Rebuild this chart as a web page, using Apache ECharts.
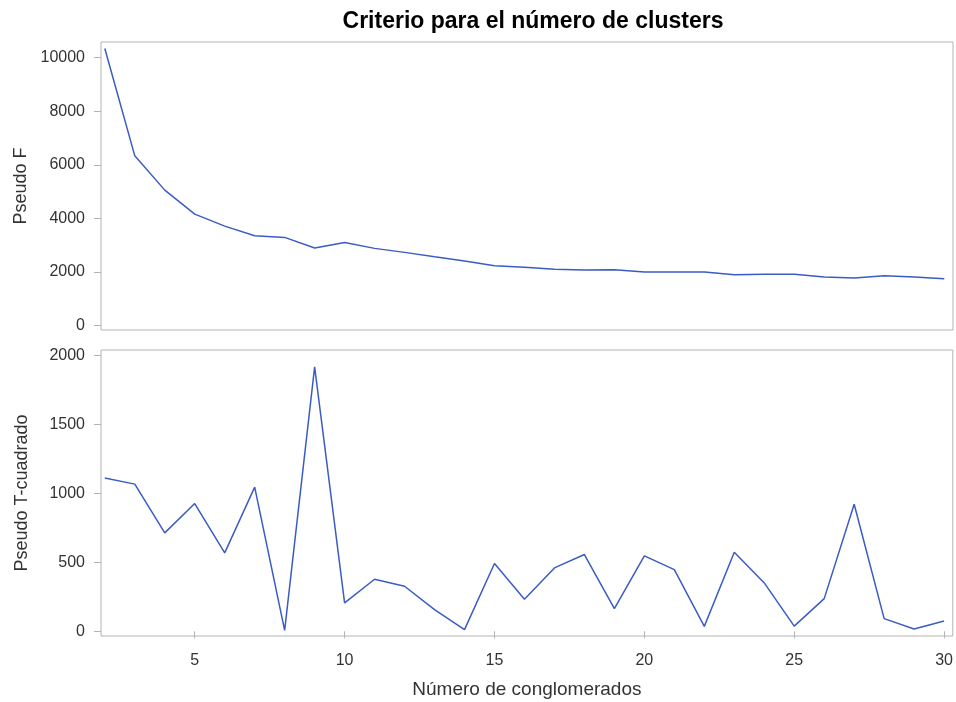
<!DOCTYPE html>
<html>
<head>
<meta charset="utf-8">
<script src="https://cdn.jsdelivr.net/npm/echarts@6/dist/echarts.min.js"></script>
<style>
html,body{margin:0;padding:0;background:#fff;}
#chart{width:956px;height:702px;}
</style>
</head>
<body>
<div id="chart"></div>
<script>
var clusters = [2,3,4,5,6,7,8,9,10,11,12,13,14,15,16,17,18,19,20,21,22,23,24,25,26,27,28,29,30];
var pseudoF = [10335,6334,5056,4162,3715,3353,3293,2895,3107,2884,2735,2571,2411,2235,2176,2101,2075,2090,2000,2000,2000,1900,1915,1915,1814,1777,1863,1814,1751];
var pseudoT2 = [1113,1068,714,927,569,1046,7,1919,206,378,327,157,12,492,232,460,557,165,547,448,36,574,351,38,237,922,92,17,75];
var xTicks = [5,10,15,20,25,30];
var fTicks = [0,2000,4000,6000,8000,10000];
var tTicks = [0,500,1000,1500,2000];

var titleText = 'Criterio para el número de clusters';
var xName = 'Número de conglomerados';
var fName = 'Pseudo F';
var tName = 'Pseudo T-cuadrado';

function pairs(xs, ys){ return xs.map(function(x,i){ return [x, ys[i]]; }); }
function plain(v){ return String(v); }

var FONT = '"Liberation Sans", Arial, sans-serif';
var GRAY = '#b4b4b4';
var TXT = '#333333';
var LINE = '#3a5cc4';

var chart = echarts.init(document.getElementById('chart'), null, {renderer:'canvas'});
var option = {
  animation: false,
  backgroundColor: '#ffffff',
  title: {
    text: titleText,
    left: 528, top: 5, textAlign: 'center',
    textStyle: {fontFamily: FONT, fontSize: 23, fontWeight: 'bold', color: '#000'}
  },
  grid: [
    {left: 101, top: 42, width: 852, height: 288, show: true, borderColor: GRAY, borderWidth: 1, backgroundColor: 'transparent'},
    {left: 101, top: 350, width: 852, height: 286, show: true, borderColor: GRAY, borderWidth: 1, backgroundColor: 'transparent'}
  ],
  xAxis: [
    {gridIndex: 0, type: 'value', min: 1.873, max: 30.29,
     axisLine: {show: false}, axisTick: {show: false}, axisLabel: {show: false}, splitLine: {show: false}},
    {gridIndex: 1, type: 'value', min: 1.873, max: 30.29,
     name: xName, nameLocation: 'middle', nameGap: 44,
     nameTextStyle: {fontFamily: FONT, fontSize: 19, color: TXT},
     axisLine: {show: false},
     axisTick: {show: true, inside: false, length: 7, lineStyle: {color: GRAY}, customValues: xTicks},
     axisLabel: {show: true, margin: 17, fontFamily: FONT, fontSize: 16, color: TXT, customValues: xTicks, formatter: plain},
     splitLine: {show: false}}
  ],
  yAxis: [
    {gridIndex: 0, type: 'value', min: -160, max: 10580,
     name: fName, nameLocation: 'middle', nameGap: 70,
     nameTextStyle: {fontFamily: FONT, fontSize: 18, color: TXT},
     axisLine: {show: false},
     axisTick: {show: true, inside: false, length: 7, lineStyle: {color: GRAY}, customValues: fTicks},
     axisLabel: {show: true, margin: 16, fontFamily: FONT, fontSize: 16, color: TXT, customValues: fTicks, formatter: plain},
     splitLine: {show: false}},
    {gridIndex: 1, type: 'value', min: -34, max: 2041,
     name: tName, nameLocation: 'middle', nameGap: 70,
     nameTextStyle: {fontFamily: FONT, fontSize: 18, color: TXT},
     axisLine: {show: false},
     axisTick: {show: true, inside: false, length: 7, lineStyle: {color: GRAY}, customValues: tTicks},
     axisLabel: {show: true, margin: 16, fontFamily: FONT, fontSize: 16, color: TXT, customValues: tTicks, formatter: plain},
     splitLine: {show: false}}
  ],
  series: [
    {type: 'line', xAxisIndex: 0, yAxisIndex: 0, data: pairs(clusters, pseudoF),
     showSymbol: false, symbol: 'none', lineStyle: {color: LINE, width: 1.5}},
    {type: 'line', xAxisIndex: 1, yAxisIndex: 1, data: pairs(clusters, pseudoT2),
     showSymbol: false, symbol: 'none', lineStyle: {color: LINE, width: 1.5}}
  ]
};
chart.setOption(option);
</script>
</body>
</html>
